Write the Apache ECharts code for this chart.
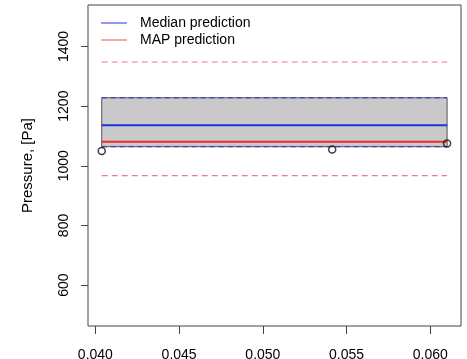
<!DOCTYPE html>
<html>
<head>
<meta charset="utf-8">
<script src="https://cdn.jsdelivr.net/npm/echarts@6/dist/echarts.min.js"></script>
<style>
  html, body { margin: 0; padding: 0; background: #fff; }
  #chart { width: 467px; height: 359px; }
</style>
</head>
<body>
<div id="chart"></div>
<script>
// Observed pressure values
const obsX = [0.04038, 0.05414, 0.0610];
const obsY = [1050, 1055, 1075];

// Prediction summaries (Pa)
const bandLower = 1064;
const bandUpper = 1228;
const medianPred = 1136;
const mapPred = 1081;
const predLower = 967;
const predUpper = 1348;

// Axis ticks
const xTicks = [0.040, 0.045, 0.050, 0.055, 0.060];
const yTicks = [600, 800, 1000, 1200, 1400];
const xRange = [0.03956, 0.06183];
const yRange = [463, 1539];

const FONT = 'Liberation Sans, Arial, sans-serif';
const x0 = Math.min(...obsX);
const x1 = Math.max(...obsX);
const hline = (y) => [[x0, y], [x1, y]];

const BLUE = '#1f30e0';
const RED = '#f02a2a';

const chart = echarts.init(document.getElementById('chart'), null, { renderer: 'canvas' });

chart.setOption({
  animation: false,
  backgroundColor: '#ffffff',
  grid: {
    left: 88, top: 5, right: 6, bottom: 33,
    outerBoundsMode: 'none',
    containLabel: false,
    show: true, borderColor: '#444', borderWidth: 1, backgroundColor: 'transparent'
  },
  legend: {
    data: [
      { name: 'Median prediction', itemStyle: { color: '#4a55e6' } },
      { name: 'MAP prediction', itemStyle: { color: '#f07070' } }
    ],
    orient: 'vertical',
    left: 101, top: 16,
    icon: 'rect',
    itemWidth: 26, itemHeight: 1.2, itemGap: 3,
    textStyle: { fontFamily: FONT, fontSize: 14, color: '#000', lineHeight: 14, padding: [0, 0, 0, 8] },
    padding: 0
  },
  xAxis: {
    type: 'value',
    min: xRange[0], max: xRange[1],
    axisLine: { show: false },
    splitLine: { show: false },
    axisTick: { show: true, length: 8, lineStyle: { color: '#444' }, customValues: xTicks },
    axisLabel: {
      customValues: xTicks,
      margin: 22,
      fontFamily: FONT, fontSize: 14, color: '#000',
      formatter: (v) => v.toFixed(3)
    }
  },
  yAxis: {
    type: 'value',
    min: yRange[0], max: yRange[1],
    name: 'Pressure, [Pa]',
    nameLocation: 'middle',
    nameRotate: 90,
    nameGap: 53,
    nameTextStyle: { fontFamily: FONT, fontSize: 15, color: '#000' },
    axisLine: { show: false },
    splitLine: { show: false },
    axisTick: { show: true, length: 7, lineStyle: { color: '#444' }, customValues: yTicks },
    axisLabel: {
      customValues: yTicks,
      rotate: 90,
      margin: 17,
      fontFamily: FONT, fontSize: 14, color: '#000',
      formatter: (v) => String(v)
    }
  },
  series: [
    {
      name: 'band',
      type: 'line',
      data: [],
      silent: true,
      markArea: {
        silent: true,
        itemStyle: { color: '#c9c9c9', borderColor: '#555', borderWidth: 1 },
        data: [[{ coord: [x0, bandUpper] }, { coord: [x1, bandLower] }]]
      },
      z: 1
    },
    {
      name: 'band upper', type: 'line', data: hline(bandUpper), symbol: 'none',
      lineStyle: { color: BLUE, width: 1, type: [5, 4] }, z: 3
    },
    {
      name: 'band lower', type: 'line', data: hline(bandLower), symbol: 'none',
      lineStyle: { color: BLUE, width: 1, type: [5, 4] }, z: 3
    },
    {
      name: 'Median prediction', type: 'line', data: hline(medianPred), symbol: 'none',
      itemStyle: { color: BLUE },
      lineStyle: { color: BLUE, width: 2 }, z: 4
    },
    {
      name: 'MAP prediction', type: 'line', data: hline(mapPred), symbol: 'none',
      itemStyle: { color: RED },
      lineStyle: { color: RED, width: 2 }, z: 4
    },
    {
      name: 'pred upper', type: 'line', data: hline(predUpper), symbol: 'none',
      lineStyle: { color: '#f07a85', width: 1.2, type: [6, 4] }, z: 3
    },
    {
      name: 'pred lower', type: 'line', data: hline(predLower), symbol: 'none',
      lineStyle: { color: '#f07a85', width: 1.2, type: [6, 4] }, z: 3
    },
    {
      name: 'observed', type: 'scatter',
      data: obsX.map((x, i) => [x, obsY[i]]),
      symbol: 'circle', symbolSize: 7,
      itemStyle: { color: 'rgba(0,0,0,0)', borderColor: '#111', borderWidth: 1.5 },
      z: 5
    }
  ]
});
</script>
</body>
</html>
